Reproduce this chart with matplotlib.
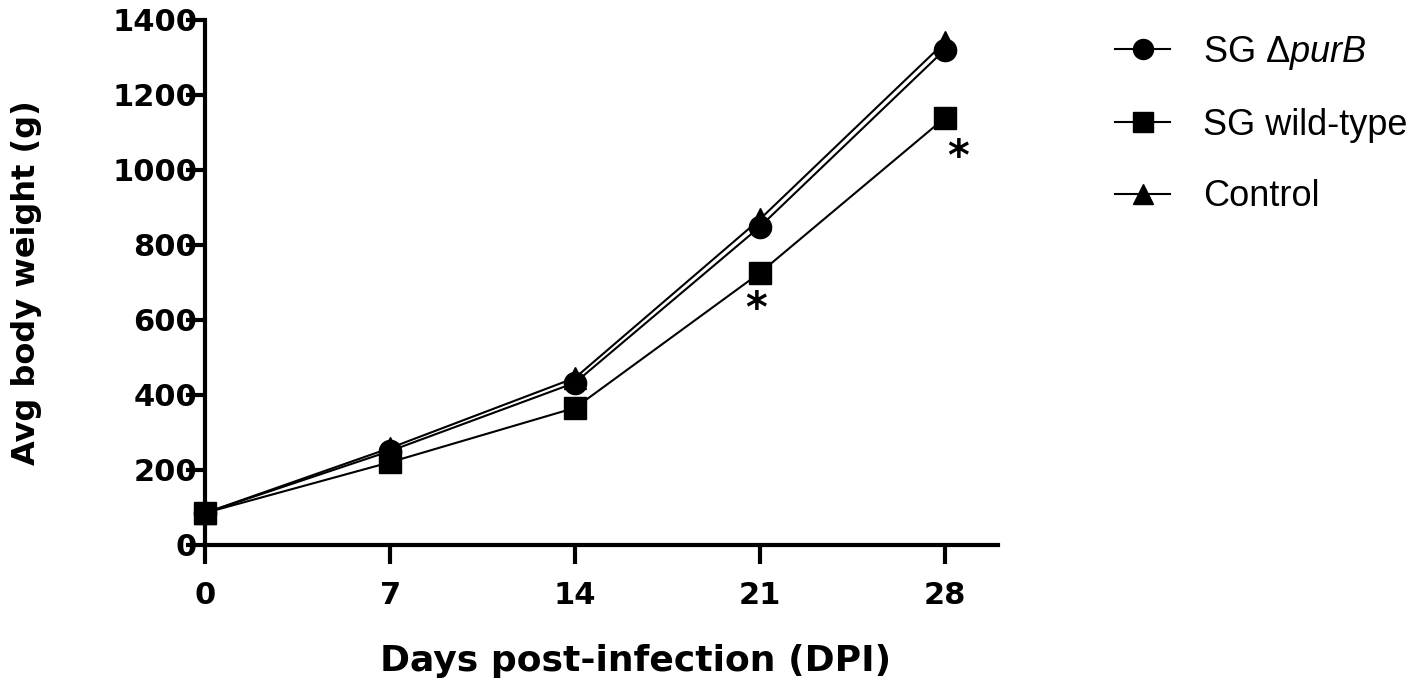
import numpy as np
import matplotlib
matplotlib.use("agg")
import matplotlib.pyplot as plt

# data
days = [0, 7, 14, 21, 28]
purB = [85, 250, 432, 848, 1320]
wild_type = [85, 220, 365, 725, 1138]
control = [85, 258, 445, 868, 1340]

series_labels = ["SG \u0394$\\mathit{purB}$", "SG wild-type", "Control"]
star_x = [20.85, 28.5]
star_y = [627, 1032]

plt.rcParams["mathtext.fontset"] = "custom"
plt.rcParams["mathtext.it"] = "Liberation Sans:italic"
plt.rcParams["mathtext.rm"] = "Liberation Sans"

fig = plt.figure(figsize=(14.17, 6.8), dpi=100)
ax = fig.add_axes([0.145, 0.199, 0.559, 0.772])

ms = 16
ax.plot(days, purB, "k-", marker="o", ms=ms, lw=1.5, label=series_labels[0], clip_on=False, zorder=3)
ax.plot(days, wild_type, "k-", marker="s", ms=ms, lw=1.5, label=series_labels[1], clip_on=False, zorder=3)
ax.plot(days, control, "k-", marker="^", ms=ms, lw=1.5, label=series_labels[2], clip_on=False, zorder=2)

for sx, sy in zip(star_x, star_y):
    ax.text(sx, sy, "*", ha="center", va="center", fontsize=30, fontweight="bold")

ax.set_xlim(0, 30)
ax.set_ylim(0, 1400)
ax.set_xticks(days)
ax.set_yticks(np.arange(0, 1401, 200))

for s in ["top", "right"]:
    ax.spines[s].set_visible(False)
for s in ["left", "bottom"]:
    ax.spines[s].set_linewidth(3)

ax.tick_params(axis="both", direction="out", width=3, length=14, labelsize=22)
ax.tick_params(axis="y", pad=-8)
ax.tick_params(axis="x", pad=12)
for lab in ax.get_xticklabels() + ax.get_yticklabels():
    lab.set_fontweight("bold")

ax.set_xlabel("Days post-infection (DPI)", fontsize=26, fontweight="bold", va="top")
ax.xaxis.set_label_coords(0.543, -0.19)
ax.set_ylabel("Avg body weight (g)", fontsize=23, fontweight="bold")
ax.yaxis.set_label_coords(-0.206, 0.5)

leg = fig.legend(loc="upper left", bbox_to_anchor=(0.787, 0.95),
                 frameon=False, handlelength=1.52, handletextpad=0.91, labelspacing=1.0,
                 borderpad=0, borderaxespad=0,
                 prop={"family": "Liberation Sans", "size": 26})
for h in leg.legend_handles:
    h.set_markersize(14.4)

fig.savefig("out.png", dpi=100)
